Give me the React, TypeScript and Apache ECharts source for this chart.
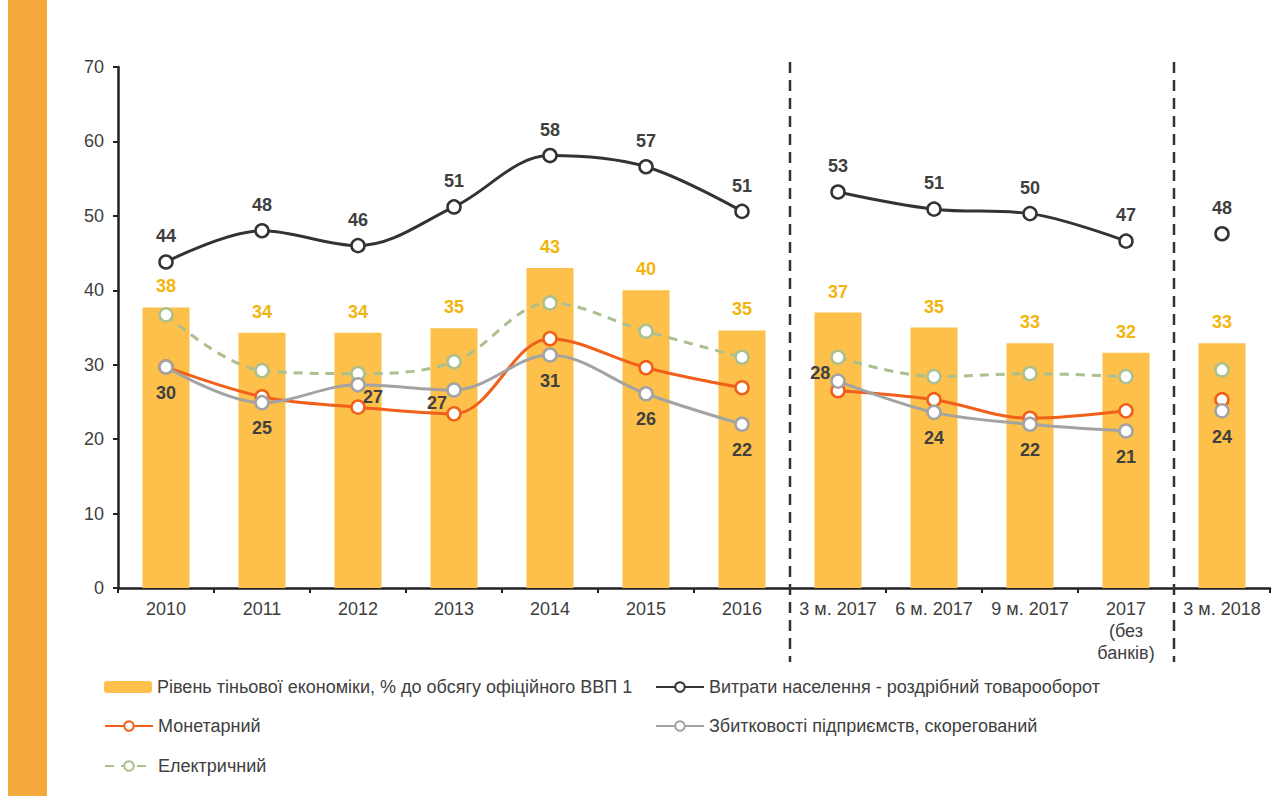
import React, { useEffect, useRef } from "react";
import * as echarts from "echarts";

const categories = [
  "2010", "2011", "2012", "2013", "2014", "2015", "2016",
  "3 м. 2017", "6 м. 2017", "9 м. 2017", "2017\n(без\nбанків)", "3 м. 2018",
];
const shadowLevel = [37.7, 34.3, 34.3, 34.9, 43.0, 40.0, 34.6, 37.0, 35.0, 32.9, 31.6, 32.9];
const retail = [43.8, 48.0, 46.0, 51.2, 58.1, 56.6, 50.6, 53.2, 50.9, 50.3, 46.6, 47.6];
const monetary = [29.7, 25.7, 24.3, 23.4, 33.5, 29.6, 26.9, 26.5, 25.3, 22.8, 23.8, 25.3];
const losses = [29.7, 24.9, 27.3, 26.6, 31.3, 26.1, 22.0, 27.8, 23.6, 22.0, 21.1, 23.8];
const electric = [36.7, 29.2, 28.8, 30.4, 38.3, 34.5, 31.0, 31.0, 28.4, 28.8, 28.4, 29.3];
const segments = [[0, 6], [7, 10], [11, 11]];

const nameBar = "Рівень тіньової економіки, % до обсягу офіційного ВВП 1";
const nameRetail = "Витрати населення - роздрібний товарооборот";
const nameMonetary = "Монетарний";
const nameLosses = "Збитковості підприємств, скорегований";
const nameElectric = "Електричний";

const FONT = "'Liberation Sans', Arial, sans-serif";
const TEXT = "#404040";
const FS = 18;

function lineSeries(name: string, data: number[], color: string, z: number, extra: any = {}) {
  return segments.map(([a, b]) => ({
    type: "line",
    name,
    z,
    smooth: 0.35,
    symbol: "circle",
    symbolSize: 13,
    showAllSymbol: true,
    connectNulls: false,
    data: data.map((v, i) => {
      if (i < a || i > b) return null;
      if (extra.labelOverride && extra.labelOverride[i]) {
        return { value: v, label: extra.labelOverride[i] };
      }
      return v;
    }),
    itemStyle: { color: "#fff", borderColor: color, borderWidth: 2.5 },
    lineStyle: { color, width: 3, type: extra.dashed ? [9, 7] : "solid" },
    label: extra.label || { show: false },
    emphasis: { disabled: true },
  }));
}

export default function App() {
  const ref = useRef<HTMLDivElement>(null);
  useEffect(() => {
    if (!ref.current) return;
    const chart = echarts.init(ref.current, undefined, { renderer: "svg" });
    const labelFmt = (p: any) => String(Math.round(Array.isArray(p.value) ? p.value[1] : p.value));
    const darkLabel = {
      show: true,
      color: TEXT,
      fontWeight: "bold",
      fontSize: FS,
      fontFamily: FONT,
      formatter: labelFmt,
    };
    const legendBase = {
      itemWidth: 48,
      itemHeight: 12,
      padding: 0,
      textStyle: { color: TEXT, fontSize: FS, fontFamily: FONT },
      selectedMode: false,
    };
    const option: any = {
      animation: false,
      backgroundColor: "#ffffff",
      textStyle: { fontFamily: FONT },
      grid: { left: 118, right: 13, top: 67, bottom: 208, containLabel: false },
      legend: [
        { ...legendBase, data: [nameBar], left: 104, top: 678 },
        { ...legendBase, data: [nameRetail], left: 655, top: 678 },
        { ...legendBase, data: [nameMonetary], left: 104, top: 717 },
        { ...legendBase, data: [nameLosses], left: 655, top: 717 },
        { ...legendBase, data: [nameElectric], left: 104, top: 757 },
      ],
      xAxis: {
        type: "category",
        data: categories,
        axisLine: { lineStyle: { color: "#222", width: 2.5 } },
        axisTick: { show: true, length: 5, lineStyle: { color: "#222", width: 2 } },
        axisLabel: { color: TEXT, fontSize: FS, margin: 10, interval: 0, fontFamily: FONT, lineHeight: 22 },
      },
      yAxis: {
        type: "value",
        min: 0,
        max: 70,
        interval: 10,
        axisLine: { show: true, lineStyle: { color: "#222", width: 2.5 } },
        axisTick: { show: true, length: 5, lineStyle: { color: "#222", width: 2 } },
        splitLine: { show: false },
        axisLabel: { color: TEXT, fontSize: FS, margin: 14, fontFamily: FONT },
      },
      series: [
        {
          type: "bar",
          name: nameBar,
          data: shadowLevel,
          barWidth: "49%",
          z: 1,
          itemStyle: { color: "#FDC04A" },
          label: {
            show: true,
            position: "top",
            distance: 12,
            color: "#F2B50C",
            fontWeight: "bold",
            fontSize: FS,
            fontFamily: FONT,
            formatter: labelFmt,
          },
          emphasis: { disabled: true },
        },
        ...lineSeries(nameMonetary, monetary, "#F0601A", 3),
        ...lineSeries(nameElectric, electric, "#ABC08E", 2, { dashed: true }),
        ...lineSeries(nameLosses, losses, "#A3A3A3", 4, {
          label: { ...darkLabel, position: "bottom", distance: 9 },
          labelOverride: {
            2: { position: "bottom", distance: -5, offset: [15, 0] },
            3: { position: "bottom", distance: -4, offset: [-17, 0] },
            7: { position: "left", distance: 0, offset: [0, -8] },
          },
        }),
        ...lineSeries(nameRetail, retail, "#333333", 5, {
          label: { ...darkLabel, position: "top", distance: 9 },
        }),
      ],
    };
    chart.setOption(option);

    const px = (i: number) => chart.convertToPixel({ xAxisIndex: 0 }, i) as number;
    const sep1 = (px(6) + px(7)) / 2;
    const sep2 = (px(10) + px(11)) / 2;
    const dash = (x: number) => ({
      type: "line",
      shape: { x1: x, y1: 62, x2: x, y2: 662 },
      style: { stroke: "#333", lineWidth: 2.5, lineDash: [11, 7] },
      z: 10,
    });
    chart.setOption({
      graphic: [
        { type: "rect", shape: { x: 8, y: 0, width: 39, height: 796 }, style: { fill: "#F5A93C" }, z: 0 },
        dash(sep1),
        dash(sep2),
      ],
    });
    return () => chart.dispose();
  }, []);
  return (
    <div
      ref={ref}
      style={{ position: "fixed", left: 0, top: 0, width: 1283, height: 796, background: "#fff" }}
    />
  );
}
